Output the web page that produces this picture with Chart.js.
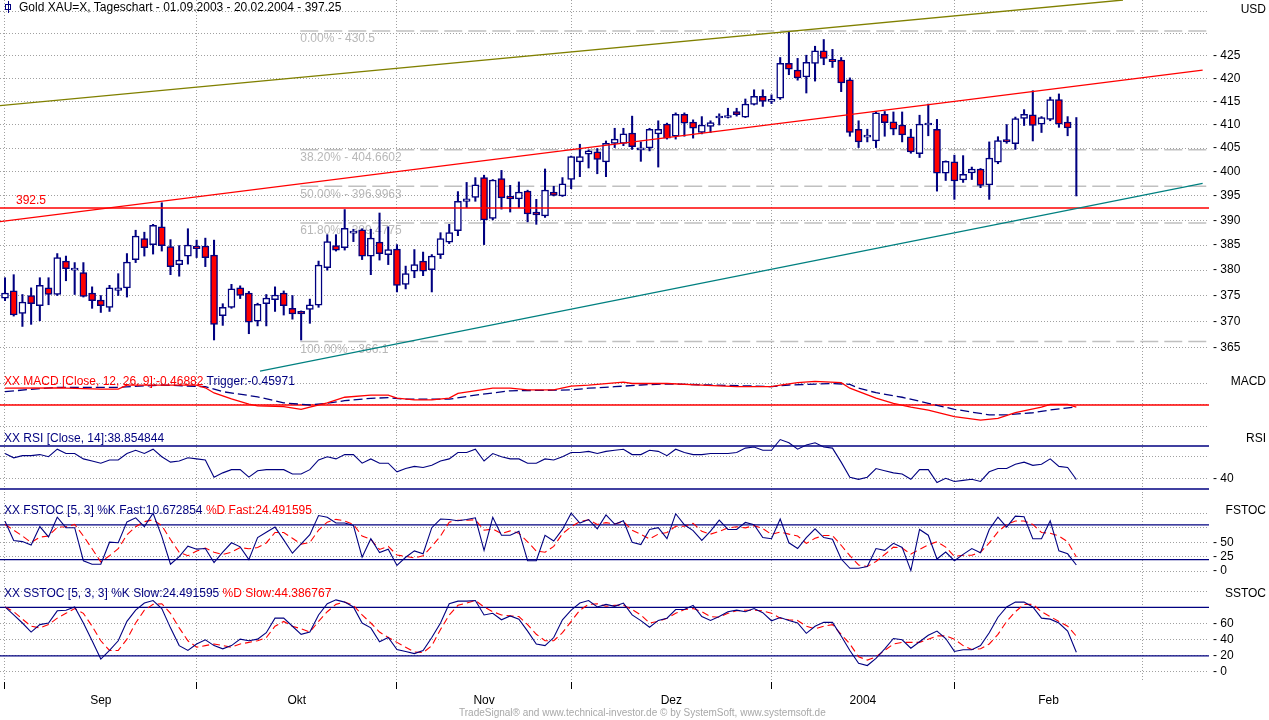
<!DOCTYPE html>
<html lang="de">
<head>
<meta charset="UTF-8">
<title>Gold XAU=X, Tageschart</title>
<script src="https://cdn.jsdelivr.net/npm/chart.js"></script>
<style>
  body { margin: 0; background: #fff; }
  #wrap { position: relative; width: 1269px; height: 720px; overflow: hidden; background: #fff;
          font-family: "Liberation Sans", Arial, sans-serif; }
  #wrap canvas { position: absolute; left: 0; }
  .lbl { position: absolute; font-size: 12px; line-height: 14px; white-space: nowrap; color: #000; }
  .rt { right: 3px; text-align: right; }
  .navy { color: #000080; }
  .red { color: #ff0000; }
  .ico { position: absolute; left: 5px; top: 4px; width: 4px; height: 4px; border: 1.5px solid #000080; }
  .ico::before { content: ''; position: absolute; left: 1.5px; top: -4px; width: 1px; height: 12px; background: #000080; }
  #foot { position: absolute; left: 459px; top: 707px; font-size: 10px; line-height: 12px; color: #a8a8a8; white-space: nowrap; }
</style>
</head>
<body>
<div id="wrap">
  <canvas id="cMain" width="1269" height="373" style="top:0px"></canvas>
  <canvas id="cMacd" width="1269" height="59" style="top:373px"></canvas>
  <canvas id="cRsi" width="1269" height="62" style="top:432px"></canvas>
  <canvas id="cFst" width="1269" height="86" style="top:494px"></canvas>
  <canvas id="cSst" width="1269" height="140" style="top:580px"></canvas>

  <span class="ico"></span>
  <div class="lbl" style="left:19px; top:0px;">Gold XAU=X, Tageschart - 01.09.2003 - 20.02.2004 - 397.25</div>
  <div class="lbl rt" style="top:2px;">USD</div>

  <div class="lbl" style="left:4px; top:374px;"><span class="red">XX MACD [Close, 12, 26, 9]:-0.46882</span> <span class="navy">Trigger:-0.45971</span></div>
  <div class="lbl rt" style="top:374px;">MACD</div>

  <div class="lbl navy" style="left:4px; top:431px;">XX RSI [Close, 14]:38.854844</div>
  <div class="lbl rt" style="top:431px;">RSI</div>

  <div class="lbl" style="left:4px; top:503px;"><span class="navy">XX FSTOC [5, 3] %K Fast:10.672854</span> <span class="red">%D Fast:24.491595</span></div>
  <div class="lbl rt" style="top:503px;">FSTOC</div>

  <div class="lbl" style="left:4px; top:586px;"><span class="navy">XX SSTOC [5, 3, 3] %K Slow:24.491595</span> <span class="red">%D Slow:44.386767</span></div>
  <div class="lbl rt" style="top:586px;">SSTOC</div>

  <div id="foot">TradeSignal&reg; and www.technical-investor.de &copy; by SystemSoft, www.systemsoft.de</div>
</div>

<script>
// trading days 01.09.2003 .. 20.02.2004, index 0..123
const opens = [374.5,375.9,371.5,375.0,373.0,376.5,375.2,381.8,380.0,379.5,
  375.5,374.1,372.7,376.0,376.5,382.1,386.3,385.1,388.7,384.7,
  381.1,382.8,384.8,384.8,383.0,371.1,372.7,376.5,375.5,370.0,
  373.4,374.2,375.5,372.5,371.9,372.3,373.1,380.5,384.9,384.5,
  387.4,388.1,382.8,385.6,383.1,384.2,377.2,379.8,381.8,380.1,
  383.1,385.6,387.9,393.9,394.7,398.8,390.4,398.6,394.9,394.4,
  396.0,391.7,390.9,395.8,395.0,398.4,402.1,403.7,404.2,402.1,
  406.0,406.0,408.2,404.6,405.0,408.0,410.1,407.5,412.2,410.5,
  408.3,409.6,411.4,411.5,412.8,411.6,414.3,416.1,415.0,415.7,
  423.3,421.8,420.3,423.3,426.1,424.2,424.0,419.7,409.0,407.3,
  406.5,412.2,410.6,409.9,407.4,403.8,409.9,409.0,399.7,402.1,
  398.3,399.8,400.6,397.3,402.0,406.8,405.9,411.3,412.1,410.1,
  411.1,415.4,410.5,null];
const highs = [378.5,379.1,375.2,376.5,378.5,378.5,383.3,382.8,381.5,381.5,
  376.7,375.0,377.0,379.3,383.3,388.0,387.6,389.2,393.6,386.1,
  384.9,388.3,386.0,386.4,386.0,373.4,377.2,376.9,375.8,373.5,
  375.2,376.7,375.9,375.0,372.0,374.3,381.8,387.1,387.1,392.2,
  388.2,388.3,388.2,391.5,388.7,385.1,380.8,384.1,383.6,383.1,
  387.5,389.2,395.9,397.8,398.8,399.3,398.4,400.3,397.2,397.9,
  396.2,394.3,400.6,397.0,398.8,403.3,405.8,404.6,404.9,406.5,
  409.2,409.2,411.8,406.3,409.2,410.8,410.3,412.5,412.5,411.0,
  411.7,410.8,412.3,413.5,413.5,415.5,417.5,417.5,416.4,424.6,
  430.3,424.4,425.1,427.1,428.6,426.4,424.6,420.1,410.8,409.0,
  412.8,412.8,412.7,412.7,409.0,412.0,414.4,411.1,402.3,403.5,
  403.4,401.0,400.7,406.3,407.4,410.0,411.6,413.2,417.3,411.7,
  415.9,416.6,411.7,411.5];
const lows = [374.0,371.0,369.0,369.4,370.1,373.2,375.0,377.9,375.2,374.7,
  372.5,371.7,371.9,375.0,374.7,381.5,382.8,383.2,383.8,379.1,
  378.8,381.2,382.5,380.7,366.4,369.2,372.5,374.4,367.6,369.1,
  369.1,371.9,371.2,370.4,366.4,369.6,372.7,380.0,383.8,384.0,
  385.7,382.1,379.1,382.0,381.1,375.7,376.3,378.5,378.9,375.7,
  382.3,385.3,386.9,392.6,393.9,385.1,390.1,392.3,391.7,392.6,
  389.7,389.2,390.6,395.0,394.9,396.5,399.0,400.8,399.6,399.0,
  405.1,405.5,404.7,402.2,404.4,401.0,406.9,406.9,407.5,407.1,
  408.0,408.3,409.9,411.4,411.8,411.5,414.2,413.9,414.5,415.4,
  420.8,419.6,416.8,419.4,423.0,422.4,417.1,407.5,405.1,406.3,
  405.1,407.5,407.8,406.3,403.9,403.0,407.6,396.0,398.2,394.3,
  397.8,398.4,396.7,394.3,401.7,406.0,404.7,409.8,406.5,408.3,
  410.8,409.4,407.6,395.0];
const closes = [375.5,371.2,373.7,373.4,377.0,375.2,382.5,380.3,380.2,374.8,
  374.0,373.0,376.5,376.5,381.6,386.8,384.5,389.0,384.9,380.7,
  382.0,385.0,384.3,382.5,369.4,372.7,376.3,375.0,369.8,373.3,
  374.5,375.1,373.0,371.4,371.4,373.2,381.0,385.7,384.0,388.4,
  387.8,382.8,386.4,383.3,384.1,377.0,379.3,381.1,379.8,382.8,
  386.3,387.5,393.9,394.4,397.3,390.1,398.3,394.6,394.4,395.8,
  391.3,391.1,396.2,395.1,397.5,403.2,403.2,404.4,402.6,406.0,
  406.9,408.0,405.3,404.7,409.0,409.0,407.1,412.2,410.3,409.2,
  409.9,410.4,411.6,411.6,412.1,414.4,416.1,415.0,415.1,423.3,
  422.0,420.1,423.5,426.1,424.4,423.7,419.0,408.3,406.3,407.5,
  412.5,410.4,409.0,407.8,404.2,410.1,410.1,399.7,402.2,398.1,
  399.5,400.6,397.2,402.9,406.6,406.3,411.3,412.2,409.8,411.5,
  415.4,410.1,409.3,null];

// MACD and trigger, [day index, value]
const macdPts = [[0,3.9],[6,4.0],[11,3.7],[13,3.7],[14,4.6],[22,4.6],[23,4.0],[24,2.8],[26,1.4],[28,0.2],
  [29,-0.2],[32,-0.4],[34,-1.0],[35,-0.5],[37,0.5],[39,1.8],[42,2.3],[44,2.3],[45,1.6],[47,1.2],
  [49,1.2],[51,1.6],[52,2.7],[56,3.9],[58,3.9],[60,3.5],[63,3.5],[65,4.4],[67,4.6],[71,5.3],
  [72,5.0],[76,5.0],[80,4.6],[84,4.25],[88,4.25],[89,4.6],[91,5.2],[93,5.5],[96,5.2],[97,3.9],
  [100,1.6],[102,0.4],[104,-0.5],[106,-1.2],[109,-2.7],[112,-3.5],[114,-3.1],[116,-1.8],[119,-0.5],
  [120,0.15],[122,0.15],[123,-0.47]];
const triggerPts = [[0,3.1],[3,3.65],[6,4.1],[13,4.1],[18,4.65],[23,4.25],[25,3.1],[29,1.9],[32,0.5],[35,0],
  [37,0.4],[39,1.0],[42,1.55],[44,1.7],[46,1.35],[51,1.35],[54,2.3],[58,3.3],[65,3.5],[67,3.9],
  [70,4.25],[73,4.65],[76,4.9],[81,4.65],[86,4.4],[88,4.25],[90,4.65],[95,5.0],[97,4.8],[98,3.9],
  [100,2.85],[103,1.8],[106,0.4],[109,-1.0],[113,-2.3],[115,-2.3],[118,-1.8],[120,-1.15],[123,-0.46]];

const rsi = [63,59,61,61,62,60,67,63,63,58, 56,54,57,57,63,66,63,67,60,55,
  56,59,58,57,41,45,48,48,41,47, 48,48,48,44,44,48,57,60,58,62,
  62,54,58,54,54,46,49,51,50,52, 56,58,64,64,67,56,63,60,58,58,
  54,54,58,57,60,64,64,65,63,65, 66,67,62,62,66,65,61,67,64,62,
  62,63,63,63,64,68,69,66,66,76, 73,67,71,73,69,68,55,41,39,41,
  49,47,45,44,39,48,48,36,40,37, 38,39,37,46,49,49,53,55,52,53,
  58,51,50,38.85];

const fastK = [86,53,51,45,77,59,93,75,75,18, 12,12,50,49,85,92,77,100,60,12,
  25,43,38,39,15,33,49,42,20,58, 67,76,54,31,47,63,96,93,83,83,
  79,24,56,32,38,10,24,35,30,75, 90,89,87,89,92,36,93,62,62,69,
  18,18,62,52,72,100,83,89,73,97, 81,87,50,46,72,75,56,99,80,70,
  53,69,88,72,72,84,80,58,56,90, 49,39,58,73,58,55,21,5,5,8,
  39,36,48,41,1,72,62,21,33,18, 29,39,32,72,93,76,95,94,56,56,
  87,35,30,10.67];
// fast %D, identical to slow %K
const fastD = [80.6,70.7,60.7,49.5,58.7,60.7,75.8,76.6,80.6,60.7, 38.7,16,26.7,38.7,62.7,76.6,85.4,88.6,78.6,54.7,
  32.7,26.7,34.7,39.9,32.7,28.7,32.7,40.7,38.7,40.7, 48.7,66.7,66.7,56.7,46.7,49.5,70.7,84.6,89.4,86.6,
  80.6,60.7,54.7,37.5,42.7,27.9,25.5,22.8,26.7,42.7, 60.7,84.6,87.8,87.8,88.6,70.7,72.7,64.7,69.5,65.5,
  50.7,34.7,32.7,42.7,64.7,76.6,85.4,88.6,80.6,83.8, 81.4,85.4,70.7,63.7,55.5,63.9,66.7,77.4,77.4,82.6,
  68.7,63.9,68.7,74.7,76.6,74.7,78.6,73.5,63.5,67.5, 63.9,60.7,47.9,56.7,61.5,61.5,44.7,26.7,10.8,8,
  16.8,28.7,41.5,39.9,29.5,37.5,45.5,50.7,41.5,25.5, 27.5,27.5,32.7,48.7,67.9,80.6,86.6,86.6,80.6,66.7,
  65.5,60.7,50.7,24.49];
const slowD = [80.6,74.7,65.5,56.7,54.7,58.7,66.7,72.7,78.6,72.7, 56.7,38.7,26.7,26.7,40.7,60.7,76.6,83.8,84.6,72.7,
  54.7,38.7,30.7,32.7,34.7,32.7,30.7,34.7,36.7,38.7, 42.7,56.7,62.7,56.7,53.5,49.5,62.7,74.7,83.8,86.6,
  82.6,70.7,60.7,49.5,42.7,36.7,30.7,24.8,24,32.7, 52.7,70.7,82.6,85.4,88.6,80.6,74.7,70.7,69.5,68.7,
  58.7,46.7,38.7,38.7,48.7,62.7,76.6,83.8,84.6,81.4, 82.6,82.6,77.4,70.7,60.7,62.7,66.7,72.7,77.4,78.6,
  74.7,68.7,67.9,72.7,75.8,76.6,76.6,75.8,72.7,66.7, 64.7,63.9,56.7,53.5,56.7,58.7,46.7,34.7,18.8,14.8,
  18.8,26.7,34.7,36.7,36.7,36.7,40.7,44.7,44.7,40.7, 32.7,27.9,28.7,34.7,46.7,62.7,74.7,83.8,83.8,74.7,
  68.7,62.7,56.7,44.39];

// drawing tools
const fibPct = [0, 38.2, 50, 61.8, 100];
const fibVal = [430.5, 404.6602, 396.9963, 389.4775, 366.1];
const fibStart = 33.9;
const supportLevel = 392.5;
const oliveLine = [[-0.574, 414.05], [128.36, 437.53]];
const redTrend = [[-0.574, 389.73], [137.5, 421.83]];
const tealLine = [[29.28, 360.48], [137.5, 397.62]];

// axes
const xMin = -0.574, xMax = 138.23;
const monthStart = [0, 22, 45, 65, 88, 109, 130.6];
const monthNames = ['Sep', 'Okt', 'Nov', 'Dez', '2004', 'Feb'];
const priceTicks = [365, 370, 375, 380, 385, 390, 395, 400, 405, 410, 415, 420, 425, 430, 435];

const navy = '#000080', red = '#ff0000', gridGrey = '#a0a0a0';
Chart.defaults.font.family = '"Liberation Sans", Arial, sans-serif';
Chart.defaults.font.size = 12;
Chart.defaults.color = '#000';

function xScale(tickMarks) {
  return {
    type: 'linear', min: xMin, max: xMax, offset: false,
    afterBuildTicks: s => { s.ticks = monthStart.map(v => ({ value: v })); },
    afterFit: s => { s.height = tickMarks ? 7 : 0; s.paddingLeft = 0; s.paddingRight = 0; },
    grid: {
      color: gridGrey, offset: false, drawTicks: tickMarks, tickLength: 7, tickWidth: 1, tickBorderDash: [],
      tickColor: c => (c.tick && c.tick.value > 125) ? 'rgba(0,0,0,0)' : '#000'
    },
    border: { display: false, dash: [1, 2] },
    ticks: { display: false }
  };
}

function yScale(min, max, ticks, shown, type) {
  return {
    type: type || 'linear', position: 'right', min: min, max: max,
    afterBuildTicks: s => { s.ticks = ticks.map(v => ({ value: v })); },
    afterFit: s => { s.width = 60; s.paddingTop = 0; s.paddingBottom = 0; },
    grid: { color: gridGrey, drawTicks: false },
    border: { display: false, dash: [1, 2] },
    ticks: { padding: 4, autoSkip: false, color: '#000',
             callback: v => shown.indexOf(v) >= 0 ? '- ' + v : '' }
  };
}

function lineDs(data, color, width, dash, order) {
  return { type: 'line', data: data, borderColor: color, borderWidth: width, borderDash: dash || [],
           pointRadius: 0, tension: 0, fill: false, order: order || 0, spanGaps: true };
}
const series = arr => arr.map((v, i) => ({ x: i, y: v }));
const pairs = arr => arr.map(p => ({ x: p[0], y: p[1] }));
const level = v => [{ x: xMin, y: v }, { x: xMax, y: v }];

function panel(id, datasets, yOpts, extraScales, plugins) {
  const scales = Object.assign({ x: xScale(!!extraScales), y: yOpts }, extraScales || {});
  return new Chart(document.getElementById(id), {
    type: 'bar',
    data: { datasets: datasets },
    options: {
      responsive: false, animation: false, events: [],
      layout: { padding: 0 },
      plugins: { legend: { display: false }, tooltip: { enabled: false } },
      scales: scales
    },
    plugins: plugins || []
  });
}

// fib texts sit under the candles
const fibText = {
  id: 'fibText',
  beforeDatasetsDraw(chart) {
    const { ctx, scales: { x, y } } = chart;
    ctx.save();
    ctx.font = '12px "Liberation Sans", Arial, sans-serif';
    ctx.fillStyle = '#b8b8b8';
    ctx.textBaseline = 'top';
    fibPct.forEach((p, k) => {
      ctx.fillText(p.toFixed(2) + '% - ' + fibVal[k], x.getPixelForValue(fibStart), y.getPixelForValue(fibVal[k]) + 2);
    });
    ctx.fillStyle = red;
    ctx.textBaseline = 'bottom';
    ctx.fillText(String(supportLevel), x.getPixelForValue(1.26), y.getPixelForValue(supportLevel) - 1);
    ctx.restore();
  }
};

// main price panel
const mainSets = [
  lineDs(pairs(oliveLine), '#808000', 1.3, [], 0),
  lineDs(pairs(redTrend), red, 1.3, [], 0),
  lineDs(pairs(tealLine), '#008080', 1.3, [], 0),
  lineDs(level(supportLevel), red, 1.5, [], 0),
  {
    label: 'body', data: opens.map((o, i) => ({ x: i, y: o == null ? null : [o, closes[i]] })),
    backgroundColor: c => closes[c.dataIndex] >= opens[c.dataIndex] ? '#ffffff' : red,
    borderColor: navy, borderWidth: 1.5, borderSkipped: false, barThickness: 7,
    minBarLength: 2, grouped: false, order: 1
  },
  {
    label: 'wick', data: highs.map((h, i) => ({ x: i, y: [lows[i], h] })),
    backgroundColor: navy, borderWidth: 0, barThickness: 1.4, grouped: false, order: 2
  }
];
fibVal.forEach(v => mainSets.push(lineDs([{ x: fibStart, y: v }, { x: xMax, y: v }], '#c0c0c0', 1.5, [18, 6], 3)));
panel('cMain', mainSets, yScale(360.14, 437.53, priceTicks, priceTicks.filter(v => v <= 425), 'logarithmic'), null, [fibText]);

// MACD
panel('cMacd', [
  lineDs(level(0), red, 1.3, [], 2),
  lineDs(pairs(macdPts), red, 1.3, [], 0),
  lineDs(pairs(triggerPts), navy, 1.3, [9, 4], 1)
], yScale(-6.28, 7.44, [-5, 0, 5], []));

// RSI
panel('cRsi', [
  lineDs(level(30), navy, 1.3, [], 1),
  lineDs(level(70), navy, 1.3, [], 1),
  lineDs(series(rsi), navy, 1.1, [], 0)
], yScale(25.35, 83.0, [40, 60], [40]));

// Fast stochastic
panel('cFst', [
  lineDs(level(20), navy, 1.3, [], 2),
  lineDs(level(80), navy, 1.3, [], 2),
  lineDs(series(fastD), red, 1.1, [7, 4], 1),
  lineDs(series(fastK), navy, 1.1, [], 0)
], yScale(-15.2, 133.1, [0, 25, 50, 75, 100], [0, 25, 50]));

// Slow stochastic with the date axis
panel('cSst', [
  lineDs(level(20), navy, 1.3, [], 2),
  lineDs(level(80), navy, 1.3, [], 2),
  lineDs(series(slowD), red, 1.1, [7, 4], 1),
  lineDs(series(fastD), navy, 1.1, [], 0)
], yScale(-12.4, 114.0, [0, 20, 40, 60, 80, 100], [0, 20, 40, 60]), {
  xl: {
    type: 'linear', position: 'bottom', weight: 1, min: xMin, max: xMax, offset: false,
    afterBuildTicks: s => { s.ticks = monthNames.map((n, k) => ({ value: (monthStart[k] + monthStart[k + 1]) / 2 })); },
    afterFit: s => { s.height = 31; s.paddingLeft = 0; s.paddingRight = 0; },
    grid: { display: false, drawTicks: false },
    border: { display: false },
    ticks: { padding: 4, autoSkip: false, maxRotation: 0, color: '#000', callback: (v, k) => monthNames[k] }
  }
});
</script>
</body>
</html>
